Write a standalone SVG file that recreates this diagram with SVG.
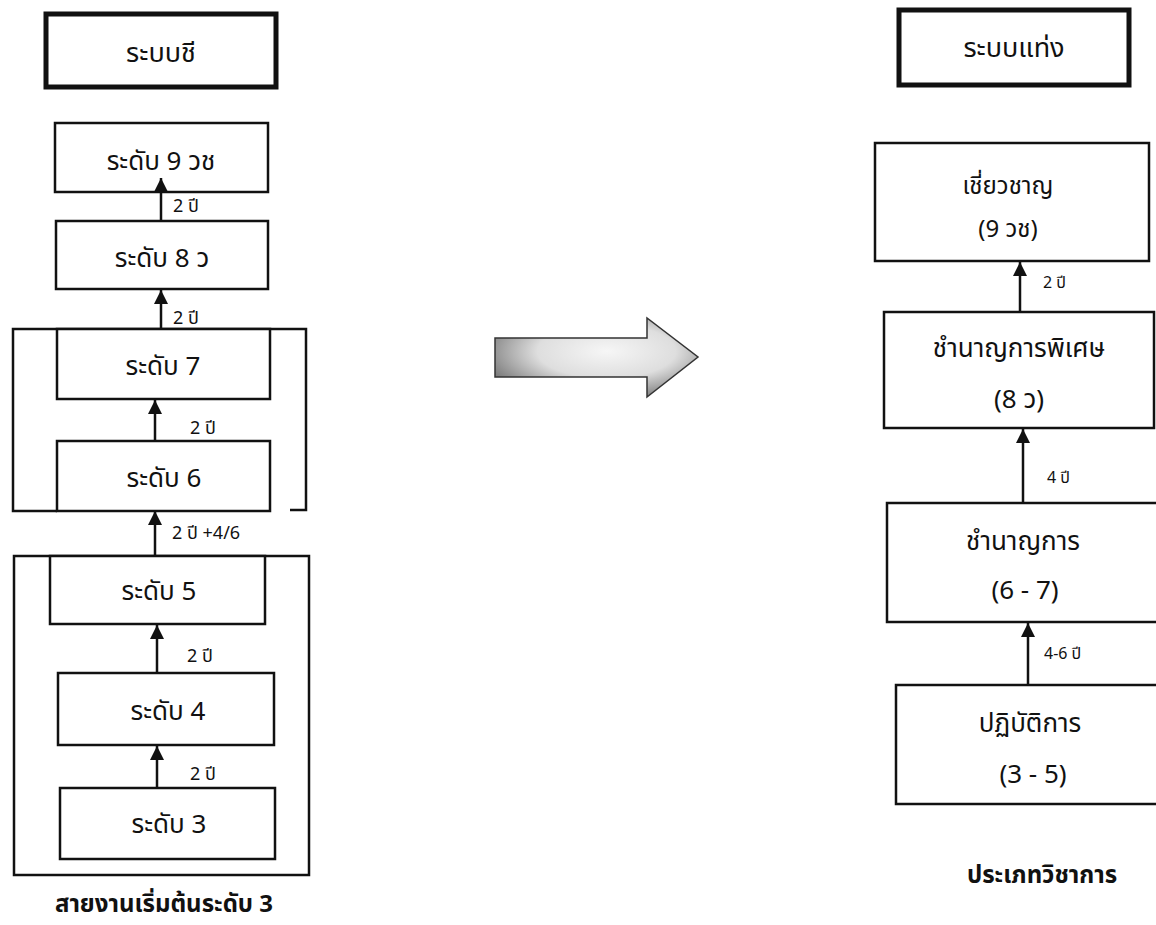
<svg xmlns="http://www.w3.org/2000/svg" width="1156" height="925" viewBox="0 0 1156 925">
<defs>
<style>
.box{fill:#fff;stroke:#111;stroke-width:2.5}
.title{fill:#fff;stroke:#111;stroke-width:5}
.frame{fill:none;stroke:#111;stroke-width:2.5}
.t{font-family:"Noto Sans Thai","Noto Sans","DejaVu Sans",sans-serif;font-size:26px;fill:#111;text-anchor:middle}
.t2{font-family:"Noto Sans Thai","Noto Sans","DejaVu Sans",sans-serif;font-size:24px;fill:#111;text-anchor:middle}
.tt{font-family:"Noto Sans Thai","Noto Sans","DejaVu Sans",sans-serif;font-size:27px;fill:#111;text-anchor:middle}
.s{font-family:"Noto Sans Thai","Noto Sans","DejaVu Sans",sans-serif;font-size:18px;fill:#111}
.sr{font-family:"Noto Sans Thai","Noto Sans","DejaVu Sans",sans-serif;font-size:16px;fill:#111}
.b{font-family:"Noto Sans Thai","Noto Sans","DejaVu Sans",sans-serif;font-size:24px;font-weight:bold;fill:#111;text-anchor:middle}
.c{stroke:#111;stroke-width:2.5;fill:none;marker-end:url(#ah)}
</style>
<marker id="ah" markerUnits="userSpaceOnUse" markerWidth="14" markerHeight="14" refX="14" refY="7" orient="auto" viewBox="0 0 14 14">
<path d="M0,0 L14,7 L0,14 Z" fill="#111"/>
</marker>
<radialGradient id="ag" cx="0.55" cy="0.42" r="0.62">
<stop offset="0" stop-color="#f6f6f6"/>
<stop offset="0.55" stop-color="#dedede"/>
<stop offset="1" stop-color="#7d7d7d"/>
</radialGradient>
</defs>
<rect width="1156" height="925" fill="#fff"/>

<g id="left-frames">
<path class="frame" d="M290 510 H306 V329 H13 V511 H57"/>
<rect class="frame" x="14" y="556" width="295" height="319"/>
</g>

<g id="title-left"><rect class="title" x="46" y="14" width="230" height="73"/><text class="tt" x="161" y="62">ระบบชี</text></g>
<g id="L9"><rect class="box" x="55" y="123" width="213" height="69"/><text class="t" x="161" y="170">ระดับ 9 วช</text></g>
<g id="L8"><rect class="box" x="56" y="221" width="212" height="68"/><text class="t" x="162" y="267">ระดับ 8 ว</text></g>
<g id="L7"><rect class="box" x="57" y="329" width="213" height="70"/><text class="t" x="163" y="375">ระดับ 7</text></g>
<g id="L6"><rect class="box" x="57" y="441" width="213" height="70"/><text class="t" x="164" y="487">ระดับ 6</text></g>
<g id="L5"><rect class="box" x="50" y="556" width="215" height="68"/><text class="t" x="159" y="600">ระดับ 5</text></g>
<g id="L4"><rect class="box" x="58" y="673" width="216" height="72"/><text class="t" x="168" y="720">ระดับ 4</text></g>
<g id="L3"><rect class="box" x="60" y="788" width="215" height="71"/><text class="t" x="169" y="833">ระดับ 3</text></g>
<g id="caption-left"><text class="b" x="164" y="912">สายงานเริ่มต้นระดับ 3</text></g>

<g id="title-right"><rect class="title" x="899" y="10" width="230" height="75"/><text class="tt" x="1014" y="57">ระบบแท่ง</text></g>
<g id="R1"><rect class="box" x="875" y="143" width="274" height="118"/><text class="t2" x="1008" y="194">เชี่ยวชาญ</text><text class="t2" x="1008" y="237">(9 วช)</text></g>
<g id="R2"><rect class="box" x="884" y="312" width="270" height="116"/><text class="t" x="1019" y="357">ชำนาญการพิเศษ</text><text class="t" x="1019" y="408">(8 ว)</text></g>
<g id="R3"><rect class="box" x="887" y="503" width="280" height="119"/><text class="t" x="1023" y="550">ชำนาญการ</text><text class="t" x="1025" y="599">(6 - 7)</text></g>
<g id="R4"><rect class="box" x="896" y="685" width="280" height="119"/><text class="t" x="1030" y="732">ปฏิบัติการ</text><text class="t" x="1033" y="783">(3 - 5)</text></g>
<g id="caption-right"><text class="b" x="1042" y="883">ประเภทวิชาการ</text></g>

<g id="big-arrow"><polygon points="495,338 647,338 647,318 698,357 647,397 647,377 495,377" fill="url(#ag)" stroke="#333" stroke-width="1.5"/></g>

<g id="connectors">
<line class="c" x1="161" y1="221" x2="161" y2="178"/>
<line class="c" x1="161" y1="329" x2="161" y2="290"/>
<line class="c" x1="155" y1="441" x2="155" y2="400"/>
<line class="c" x1="155" y1="556" x2="155" y2="511"/>
<line class="c" x1="157" y1="673" x2="157" y2="625"/>
<line class="c" x1="157" y1="788" x2="157" y2="746"/>
<line class="c" x1="1020" y1="312" x2="1020" y2="262"/>
<line class="c" x1="1023" y1="503" x2="1023" y2="429"/>
<line class="c" x1="1028" y1="685" x2="1028" y2="623"/>
<text class="s" x="173" y="212">2 ปี</text>
<text class="s" x="173" y="324">2 ปี</text>
<text class="s" x="190" y="434">2 ปี</text>
<text class="s" x="172" y="539">2 ปี +4/6</text>
<text class="s" x="187" y="662">2 ปี</text>
<text class="s" x="190" y="780">2 ปี</text>
<text class="sr" x="1043" y="288">2 ปี</text>
<text class="sr" x="1047" y="483">4 ปี</text>
<text class="sr" x="1044" y="659">4-6 ปี</text>
</g>
</svg>
